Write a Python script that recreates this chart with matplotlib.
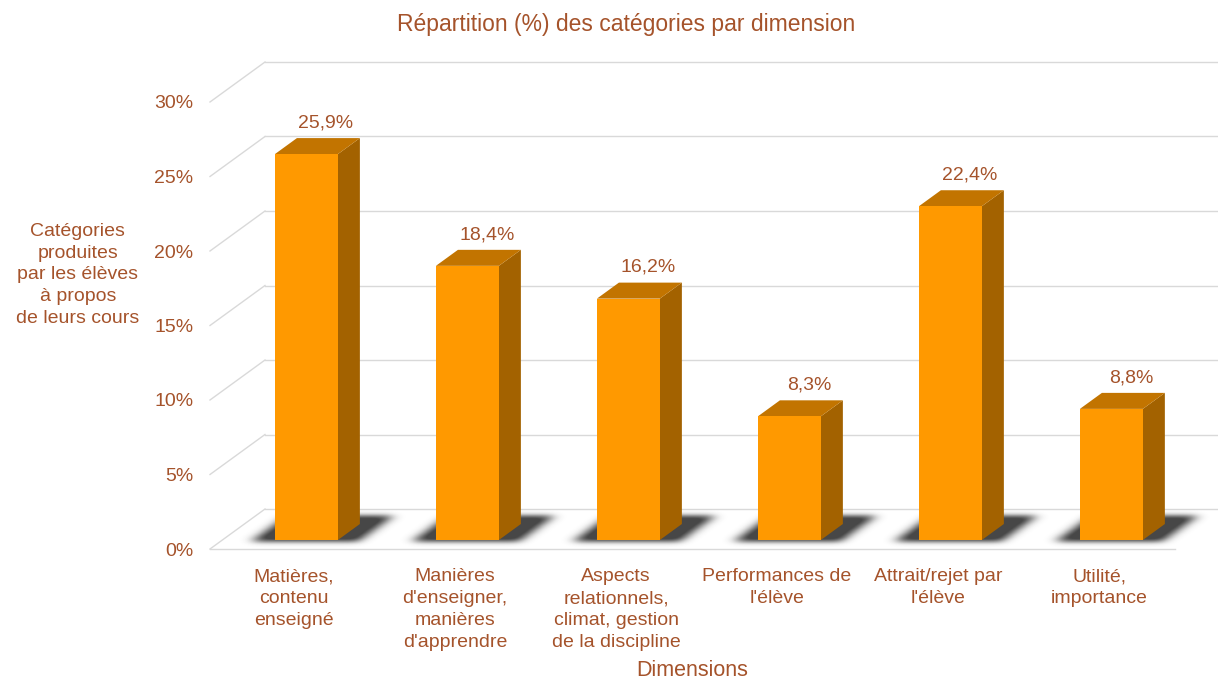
import numpy as np
import matplotlib.pyplot as plt
from matplotlib.patches import Polygon

plt.rcParams['font.family'] = ['Liberation Sans', 'DejaVu Sans']

categories = ["Matières,\ncontenu\nenseigné",
              "Manières\nd'enseigner,\nmanières\nd'apprendre",
              "Aspects\nrelationnels,\nclimat, gestion\nde la discipline",
              "Performances de\nl'élève",
              "Attrait/rejet par\nl'élève",
              "Utilité,\nimportance"]
values = [25.9, 18.4, 16.2, 8.3, 22.4, 8.8]
value_labels = ["25,9%", "18,4%", "16,2%", "8,3%", "22,4%", "8,8%"]
yticks = [0, 5, 10, 15, 20, 25, 30]
ytick_labels = ["0%", "5%", "10%", "15%", "20%", "25%", "30%"]

TXT = '#A5532B'
FRONT = '#FF9900'
SIDE = '#A36200'
TOP = '#C27400'
GRID = '#D9D9D9'

W, H = 1218, 679
fig = plt.figure(figsize=(W / 100, H / 100), dpi=100)
ax = fig.add_axes([210 / W, 130 / H, 965 / W, 447 / H])
x0, x1 = -0.522, 5.472
ax.set_xlim(x0, x1)
ax.set_ylim(0, 30)

# depth of the 3D box in data units
DX = 55 / 161
DY = 40 / 14.9
df, db = 0.225, 0.625   # front / back depth of bars
bw = 0.391

# walls and grid
for t in yticks:
    ax.plot([x0, x0 + DX], [t, t + DY], color=GRID, lw=1.0, clip_on=False, zorder=1)
    ax.plot([x0 + DX, x1 + 2 * DX], [t + DY, t + DY], color=GRID, lw=1.0, clip_on=False, zorder=1)
ax.plot([x0, x1], [0, 0], color=GRID, lw=1.0, clip_on=False, zorder=1)

# blurred shadows on the floor
nx, ny = 1100, 70
gx = np.linspace(x0, x1 + DX, nx)
gy = np.linspace(-0.6, DY + 0.6, ny)
XX, YY = np.meshgrid(gx, gy)
dd = YY / DY
xf = XX - dd * DX
mask = np.zeros_like(XX)
for i in range(len(values)):
    m = (xf > i - 0.33) & (xf < i + 0.33) & (dd > 0.19) & (dd < 0.84)
    mask[m] = 1.0
k = np.exp(-0.5 * (np.arange(-20, 21) / 6.5) ** 2)
k /= k.sum()
mask = np.apply_along_axis(lambda r: np.convolve(r, k, mode='same'), 1, mask)
k2 = np.exp(-0.5 * (np.arange(-10, 11) / 3.0) ** 2)
k2 /= k2.sum()
mask = np.apply_along_axis(lambda c: np.convolve(c, k2, mode='same'), 0, mask)
rgba = np.zeros((ny, nx, 4))
rgba[..., :3] = 0.15
rgba[..., 3] = np.clip(mask * 1.0, 0, 0.85)
ax.imshow(rgba, extent=[gx[0], gx[-1], gy[0], gy[-1]], origin='lower',
          aspect='auto', interpolation='bilinear', zorder=2, clip_on=False)
ax.set_xlim(x0, x1)
ax.set_ylim(0, 30)

# bars
for i, v in enumerate(values):
    a = i - bw / 2 + df * DX
    b = i + bw / 2 + df * DX
    yb = df * DY
    ox, oy = (db - df) * DX, (db - df) * DY
    side = [(b, yb), (b + ox, yb + oy), (b + ox, v + yb + oy), (b, v + yb)]
    top = [(a, v + yb), (b, v + yb), (b + ox, v + yb + oy), (a + ox, v + yb + oy)]
    front = [(a, yb), (b, yb), (b, v + yb), (a, v + yb)]
    ax.add_patch(Polygon(side, closed=True, fc=SIDE, ec='none', zorder=3, clip_on=False))
    ax.add_patch(Polygon(top, closed=True, fc=TOP, ec='none', zorder=3, clip_on=False))
    ax.add_patch(Polygon(front, closed=True, fc=FRONT, ec='none', zorder=3, clip_on=False))
    ax.text(i + db * DX - 0.015, v + db * DY + 0.45, value_labels[i], ha='center', va='bottom',
            color=TXT, fontsize=14, zorder=4)

for s in ax.spines.values():
    s.set_visible(False)
ax.set_facecolor('none')
ax.set_yticks(yticks)
ax.set_yticklabels(ytick_labels, color=TXT, fontsize=14)
ax.set_xticks(range(len(categories)))
ax.set_xticklabels(categories, color=TXT, fontsize=14, linespacing=1.38)
ax.tick_params(axis='y', length=0, pad=12)
ax.tick_params(axis='x', length=0, pad=14)

ax.set_ylabel("Catégories\nproduites\npar les élèves\nà propos\nde leurs cours",
              rotation=0, color=TXT, fontsize=14, ha='center', va='center', linespacing=1.38)
ax.yaxis.set_label_coords(-0.137, 0.613)
ax.set_xlabel("Dimensions", color=TXT, fontsize=15.5, va='center')
ax.xaxis.set_label_coords(0.5, -0.272)

fig.text(626 / W, 1 - 24 / H, "Répartition (%) des catégories par dimension",
         ha='center', va='center', color=TXT, fontsize=16.5)

fig.savefig('out.png', dpi=100)
